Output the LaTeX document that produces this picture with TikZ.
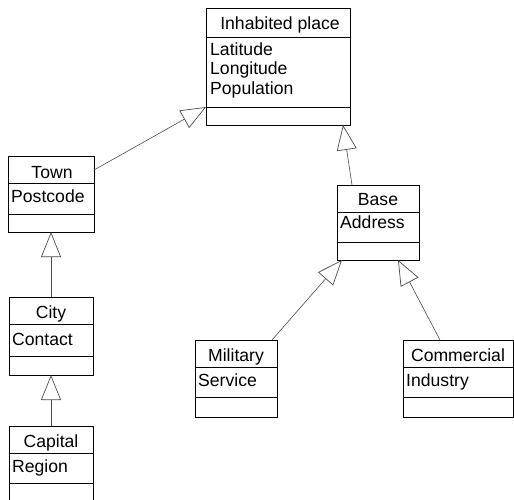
\documentclass[tikz,border=0pt]{standalone}
\usepackage{fontspec}
\setmainfont{Liberation Sans}
\usetikzlibrary{arrows.meta}

\tikzset{
  classbox/.style={draw, line width=0.9pt, rectangle, inner sep=0pt, outer sep=0pt, anchor=north west},
  divider/.style={line width=0.9pt},
  classname/.style={inner sep=0pt, anchor=base, font=\fontsize{17.6}{20}\selectfont},
  attr/.style={inner sep=0pt, anchor=base west, font=\fontsize{17.6}{20}\selectfont},
  inherits/.style={line width=0.6pt, draw=black!70,
    -{Triangle[open, length=25pt, width=20pt, line width=0.7pt]}},
}

% #1 name, #2 left, #3 top, #4 width, #5 height, #6 header height, #7 attribute height
\newcommand\classframe[7]{%
  \node[classbox, minimum width=#4pt, minimum height=#5pt] (#1) at (#2,#3) {};
  \draw[divider] ([yshift=-#6pt]#1.north west) -- ([yshift=-#6pt]#1.north east);
  \draw[divider] ([yshift=-#6pt-#7pt]#1.north west) -- ([yshift=-#6pt-#7pt]#1.north east);
}

\begin{document}
\begin{tikzpicture}[x=1pt, y=-1pt]
  \clip (0,0) rectangle (514,499);
  \fill[white] (0,0) rectangle (514,499);

  % class boxes
  \classframe{inhabited}{206}{8}{144}{117}{29}{70}
  \classframe{town}{8}{156}{86}{76}{27}{31}
  \classframe{city}{9}{297}{84}{78}{27}{32}
  \classframe{capital}{9}{426}{84}{80}{27}{30}
  \classframe{base}{337}{185}{82}{75}{27}{30}
  \classframe{military}{195}{340}{82}{77}{27}{30}
  \classframe{commercial}{403}{340}{110}{77}{27}{30}

  % class names (baselines)
  \node[classname] (inhabited-name) at (280,29) {Inhabited place};
  \node[classname] (town-name) at (52,178) {Town};
  \node[classname] (city-name) at (51,318) {City};
  \node[classname] (capital-name) at (51,447) {Capital};
  \node[classname] (base-name) at (378,205) {Base};
  \node[classname] (military-name) at (236,361) {Military};
  \node[classname] (commercial-name) at (458,361) {Commercial};

  % attributes (baselines)
  \node[attr] (lat) at (210,55) {Latitude};
  \node[attr] (lon) at (210,74.5) {Longitude};
  \node[attr] (pop) at (210,94) {Population};
  \node[attr] (postcode) at (11,202) {Postcode};
  \node[attr] (contact) at (12,345) {Contact};
  \node[attr] (region) at (12,472) {Region};
  \node[attr] (address) at (340,228) {Address};
  \node[attr] (service) at (198,386) {Service};
  \node[attr] (industry) at (406,386) {Industry};

  % connector ends
  \coordinate (town-out) at (94,170);
  \coordinate (inhabited-left) at (206,107);
  \coordinate (base-out) at (352,185);
  \coordinate (inhabited-bottom) at (343,125);
  \coordinate (military-out) at (272,340);
  \coordinate (base-left) at (342,260);
  \coordinate (commercial-out) at (440,340);
  \coordinate (base-right) at (398,260);

  % generalisations
  \draw[inherits] (town-out) -- (inhabited-left);
  \draw[inherits] (base-out) -- (inhabited-bottom);
  \draw[inherits] (city.north) -- (town.south);
  \draw[inherits] (capital.north) -- (city.south);
  \draw[inherits] (military-out) -- (base-left);
  \draw[inherits] (commercial-out) -- (base-right);
\end{tikzpicture}
\end{document}
